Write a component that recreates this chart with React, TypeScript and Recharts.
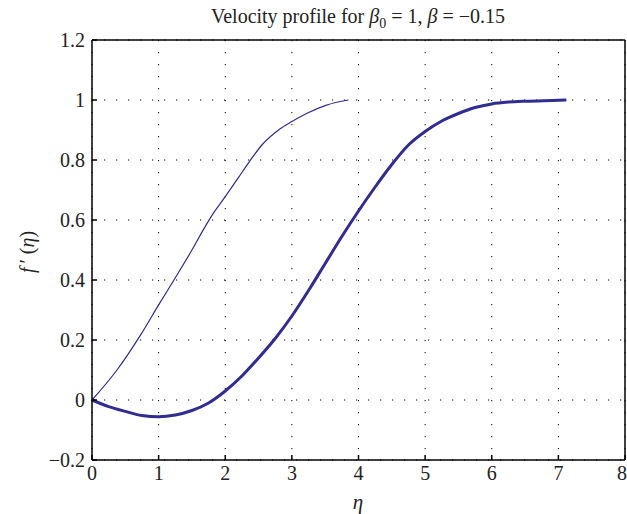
import { LineChart, Line, XAxis, YAxis, CartesianGrid, Label } from 'recharts';

const etaThin = [0, 0.375, 0.73, 1.0, 1.23, 1.5, 1.67, 1.82, 2.0, 2.2, 2.37, 2.55, 2.8, 3.0, 3.22, 3.52, 3.85];
const fThin = [0, 0.1, 0.217, 0.317, 0.4, 0.5, 0.567, 0.622, 0.678, 0.742, 0.797, 0.85, 0.9, 0.928, 0.955, 0.983, 1.0];

const etaThick = [0, 0.25, 0.5, 0.75, 1.0, 1.25, 1.5, 1.75, 2.0, 2.25, 2.5, 2.75, 3.0, 3.25, 3.5, 3.75, 4.0, 4.25, 4.5, 4.75, 5.0, 5.25, 5.5, 5.75, 6.0, 6.25, 6.5, 7.0, 7.12];
const fThick = [0, -0.022, -0.038, -0.052, -0.056, -0.05, -0.035, -0.01, 0.03, 0.08, 0.14, 0.205, 0.28, 0.365, 0.455, 0.545, 0.63, 0.71, 0.785, 0.85, 0.895, 0.93, 0.955, 0.975, 0.987, 0.993, 0.996, 0.999, 1.0];

const xTicks = [0, 1, 2, 3, 4, 5, 6, 7, 8];
const yTicks = [-0.2, 0, 0.2, 0.4, 0.6, 0.8, 1, 1.2];

const thinData = etaThin.map((x, i) => ({ x, y: fThin[i] }));
const thickData = etaThick.map((x, i) => ({ x, y: fThick[i] }));

const font = '"Liberation Serif", "DejaVu Serif", serif';
const lineColor = '#302c90';

const fmtY = (v: number) => (v < 0 ? '\u2212' + Math.abs(v) : String(v));
const noTick = () => <g />;

export default function App() {
    return (
        <div style={{ position: 'absolute', left: 0, top: 0, width: 627, height: 514, background: '#fff', fontFamily: font }}>
            <LineChart width={627} height={514} margin={{ top: 39, right: 1, bottom: 24, left: 42 }}>
                <CartesianGrid xAxisId="b" yAxisId="l" stroke="#000" strokeDasharray="1.2 10.8" strokeWidth={1} />
                <XAxis
                    dataKey="x"
                    type="number"
                    xAxisId="b"
                    domain={[0, 8]}
                    ticks={xTicks}
                    allowDuplicatedCategory={false}
                    stroke="#000"
                    strokeWidth={1.5}
                    tickSize={-5}
                    tickMargin={11}
                    height={30}
                    tick={{ fill: '#222', fontSize: 20, fontFamily: font }}
                >
                    <Label
                        content={() => (
                            <text x={358} y={509} textAnchor="middle" fontSize={21} fontStyle="italic" fontFamily={font} fill="#222">
                                η
                            </text>
                        )}
                    />
                </XAxis>
                <XAxis
                    dataKey="x"
                    type="number"
                    xAxisId="t"
                    orientation="top"
                    domain={[0, 8]}
                    ticks={xTicks}
                    stroke="#000"
                    strokeWidth={1.5}
                    tickSize={-5}
                    height={1}
                    tick={noTick}
                />
                <YAxis
                    yAxisId="l"
                    type="number"
                    domain={[-0.2, 1.2]}
                    ticks={yTicks}
                    stroke="#000"
                    strokeWidth={1.5}
                    tickSize={-5}
                    tickMargin={12}
                    width={50}
                    tickFormatter={fmtY}
                    tick={{ fill: '#222', fontSize: 20, fontFamily: font }}
                >
                    <Label
                        content={() => (
                            <text x={34} y={252} textAnchor="middle" fontSize={20} fontFamily={font} fill="#222" transform="rotate(-90 34 252)">
                                <tspan fontStyle="italic">f</tspan>
                                <tspan>{'\u2009\u2032 ('}</tspan>
                                <tspan fontStyle="italic">η</tspan>
                                <tspan>)</tspan>
                            </text>
                        )}
                    />
                </YAxis>
                <YAxis
                    yAxisId="r"
                    orientation="right"
                    type="number"
                    domain={[-0.2, 1.2]}
                    ticks={yTicks}
                    stroke="#000"
                    strokeWidth={1.5}
                    tickSize={-5}
                    width={1}
                    tick={noTick}
                />
                <Line
                    data={thinData}
                    dataKey="y"
                    xAxisId="b"
                    yAxisId="l"
                    type="monotone"
                    stroke={lineColor}
                    strokeWidth={1.2}
                    dot={false}
                    isAnimationActive={false}
                />
                <Line
                    data={thickData}
                    dataKey="y"
                    xAxisId="b"
                    yAxisId="l"
                    type="monotone"
                    stroke={lineColor}
                    strokeWidth={3}
                    dot={false}
                    isAnimationActive={false}
                />
                <text x={358} y={23} textAnchor="middle" fontSize={20} fontFamily={font} fill="#222">
                    <tspan>Velocity profile for </tspan>
                    <tspan fontStyle="italic">β</tspan>
                    <tspan fontSize={14} dy={5}>0</tspan>
                    <tspan dy={-5}>{' = 1, '}</tspan>
                    <tspan fontStyle="italic">β</tspan>
                    <tspan>{' = \u22120.15'}</tspan>
                </text>
            </LineChart>
        </div>
    );
}
